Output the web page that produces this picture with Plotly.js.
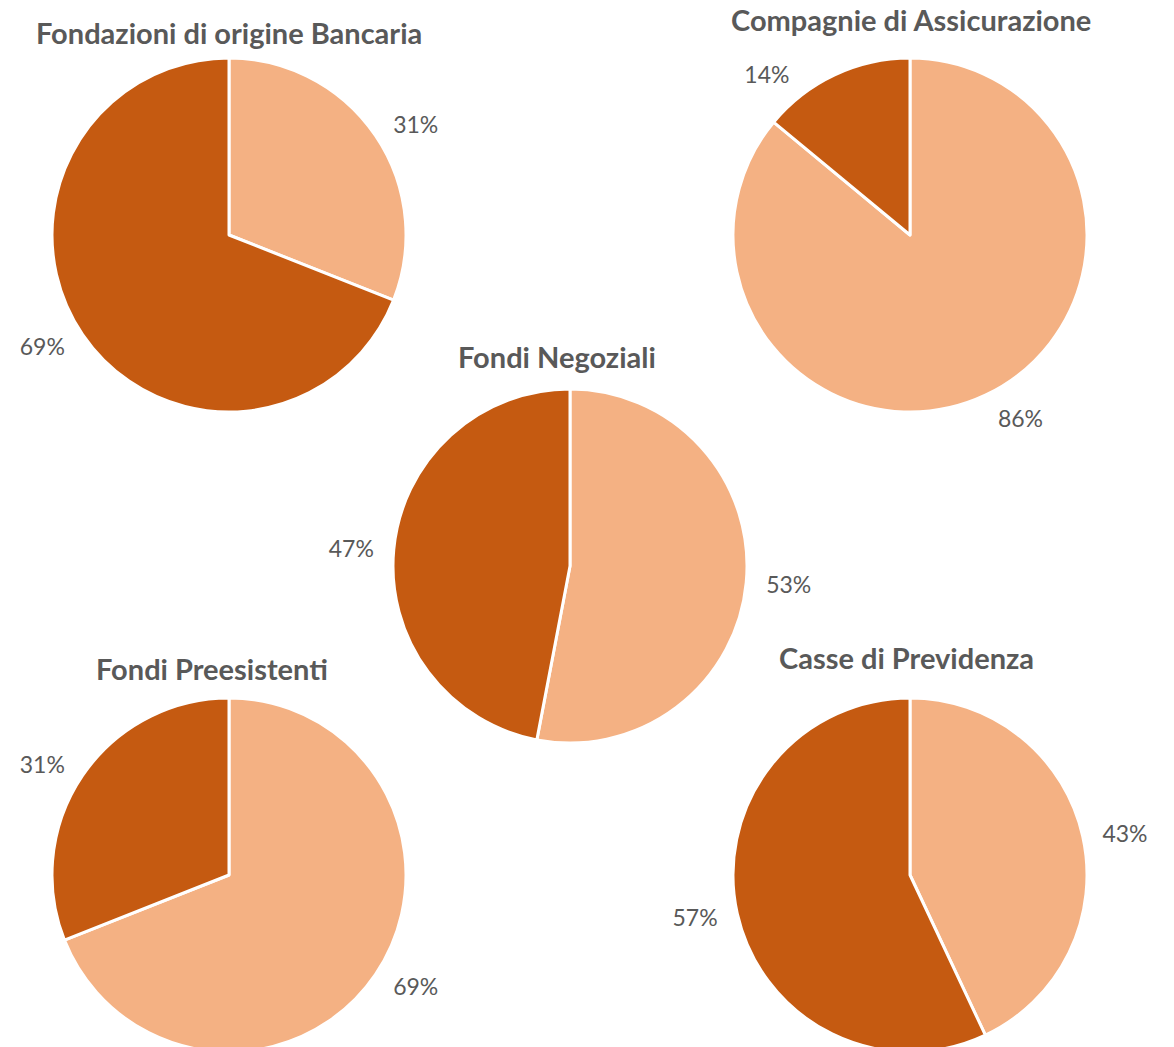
<!DOCTYPE html>
<html>
<head>
<meta charset="utf-8">
<script src="https://cdn.plot.ly/plotly-3.0.1.min.js"></script>
<style>
html,body{margin:0;padding:0;background:#fff;overflow:hidden;width:1174px;height:1047px;}
#frame{width:1174px;height:1047px;overflow:hidden;position:relative;}
#chart{width:1174px;height:1110px;}
</style>
</head>
<body>
<div id="frame"><div id="chart"></div></div>
<script>
// Data
const titles = ["Fondazioni di origine Bancaria", "Compagnie di Assicurazione", "Fondi Negoziali", "Fondi Preesistenti", "Casse di Previdenza"];
const sliceLabels = ["Quota A", "Quota B"];
const fondazioniValues = [31, 69];
const compagnieValues = [86, 14];
const negozialiValues = [53, 47];
const preesistentiValues = [69, 31];
const casseValues = [43, 57];

const seriesValues = [fondazioniValues, compagnieValues, negozialiValues, preesistentiValues, casseValues];

// Styling / layout
const W = 1174, H = 1110;   // chart is taller than the frame so the bottom pies can run off the edge
const colors = ["#F4B183", "#C55A11"];
const textColor = "#595959";
const R = 177;        // domain half-size for the visible pie
const RL = 190;       // domain half-size for the label ring
const centres = [[229, 235], [910, 235], [570, 566], [229, 875], [910, 875]];
const titlePos = [[229, 32], [911, 19], [557, 356], [212, 668], [906, 657]];
// per-slice label angle nudge (degrees), mimicking best-fit label placement
const labelNudge = [[0, 0], [0, -11.5], [0, 0], [0, 0], [0, 0]];

function dom(c, r) {
  return {x: [(c[0] - r) / W, (c[0] + r) / W], y: [(H - c[1] - r) / H, (H - c[1] + r) / H]};
}

const traces = [];
seriesValues.forEach((vals, i) => {
  traces.push({
    type: "pie",
    values: vals,
    labels: sliceLabels,
    sort: false,
    direction: "clockwise",
    rotation: 0,
    marker: {colors: colors, line: {color: "#ffffff", width: 3}},
    textposition: "none",
    hoverinfo: "none",
    showlegend: false,
    domain: dom(centres[i], R)
  });
  // transparent label rings: one per slice, carrying that slice's outside percentage
  vals.forEach((v, j) => {
    traces.push({
      type: "pie",
      values: vals,
      labels: sliceLabels,
      sort: false,
      direction: "clockwise",
      rotation: labelNudge[i][j],
      marker: {colors: ["rgba(0,0,0,0)", "rgba(0,0,0,0)"], line: {width: 0}},
      textposition: vals.map((_, k) => (k === j ? "outside" : "none")),
      texttemplate: "%{percent:.0%}",
      textfont: {family: "Lato, 'Open Sans', sans-serif", size: 23, color: textColor},
      hoverinfo: "none",
      showlegend: false,
      domain: dom(centres[i], RL)
    });
  });
});

const annotations = titles.map((t, i) => ({
  text: "<b>" + t + "</b>",
  x: titlePos[i][0] / W,
  y: 1 - titlePos[i][1] / H,
  xref: "paper", yref: "paper",
  xanchor: "center", yanchor: "middle",
  showarrow: false,
  font: {family: "Lato, 'Open Sans', sans-serif", size: 29, color: textColor}
}));

const layout = {
  width: W, height: H,
  margin: {l: 0, r: 0, t: 0, b: 0},
  paper_bgcolor: "#ffffff",
  annotations: annotations
};

Plotly.newPlot("chart", traces, layout, {displayModeBar: false, staticPlot: true});
</script>
</body>
</html>
